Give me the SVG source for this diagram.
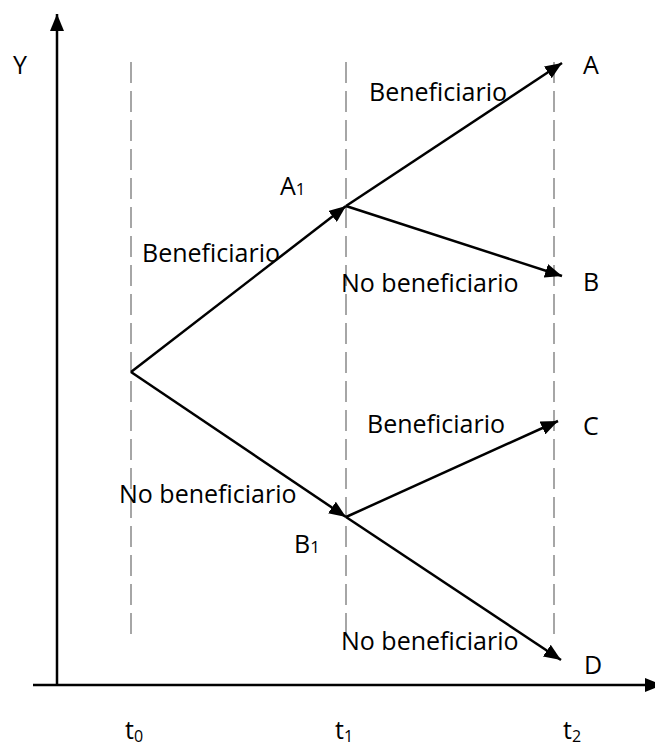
<svg xmlns="http://www.w3.org/2000/svg" width="655" height="751" viewBox="0 0 655 751">
<style>
.lbl{font-family:"Open Sans","Noto Sans","Liberation Sans",sans-serif;font-size:25px;fill:#000}
.sub{font-size:17px}
.tsub{font-size:16px}
.ax{stroke:#000;stroke-width:2.5;fill:none}
.edge{stroke:#000;stroke-width:2.5;fill:none}
.dash{stroke:#a6a6a6;stroke-width:2;stroke-dasharray:21 8;fill:none}
</style>
<defs>
<marker id="ah" markerUnits="userSpaceOnUse" markerWidth="18" markerHeight="14" refX="17" refY="7" orient="auto">
<path d="M0,0 L17,7 L0,14 z" fill="#000"/>
</marker>
</defs>
<g id="axes">
<line class="ax" x1="57" y1="686" x2="57" y2="14" marker-end="url(#ah)"/>
<line class="ax" x1="33" y1="685" x2="662" y2="685" marker-end="url(#ah)"/>
<text class="lbl" x="13" y="74">Y</text>
</g>
<g id="timelines">
<line class="dash" x1="131" y1="62" x2="131" y2="636"/>
<line class="dash" x1="346" y1="62" x2="346" y2="636"/>
<line class="dash" x1="554" y1="62" x2="554" y2="636"/>
<text class="lbl" x="125" y="739">t<tspan class="tsub" dy="3">0</tspan></text>
<text class="lbl" x="335" y="739">t<tspan class="tsub" dy="3">1</tspan></text>
<text class="lbl" x="563" y="739">t<tspan class="tsub" dy="3">2</tspan></text>
</g>
<g id="connectors">
<line class="edge" x1="131" y1="372" x2="346" y2="206" marker-end="url(#ah)"/>
<line class="edge" x1="131" y1="372" x2="346" y2="517" marker-end="url(#ah)"/>
<line class="edge" x1="346" y1="206" x2="562" y2="63" marker-end="url(#ah)"/>
<line class="edge" x1="346" y1="206" x2="562" y2="276" marker-end="url(#ah)"/>
<line class="edge" x1="346" y1="517" x2="558" y2="421" marker-end="url(#ah)"/>
<line class="edge" x1="346" y1="517" x2="561" y2="660" marker-end="url(#ah)"/>
</g>
<g id="node-A1"><text class="lbl" x="280" y="195">A<tspan class="sub">1</tspan></text></g>
<g id="node-B1"><text class="lbl" x="294" y="553">B<tspan class="sub">1</tspan></text></g>
<g id="node-A"><text class="lbl" x="583" y="74">A</text></g>
<g id="node-B"><text class="lbl" x="583" y="291">B</text></g>
<g id="node-C"><text class="lbl" x="583" y="435">C</text></g>
<g id="node-D"><text class="lbl" x="584" y="674">D</text></g>
<g id="edge-labels">
<text class="lbl" x="142" y="262">Beneficiario</text>
<text class="lbl" x="119" y="503">No beneficiario</text>
<text class="lbl" x="369" y="101">Beneficiario</text>
<text class="lbl" x="341" y="292">No beneficiario</text>
<text class="lbl" x="367" y="433">Beneficiario</text>
<text class="lbl" x="341" y="650">No beneficiario</text>
</g>
</svg>
